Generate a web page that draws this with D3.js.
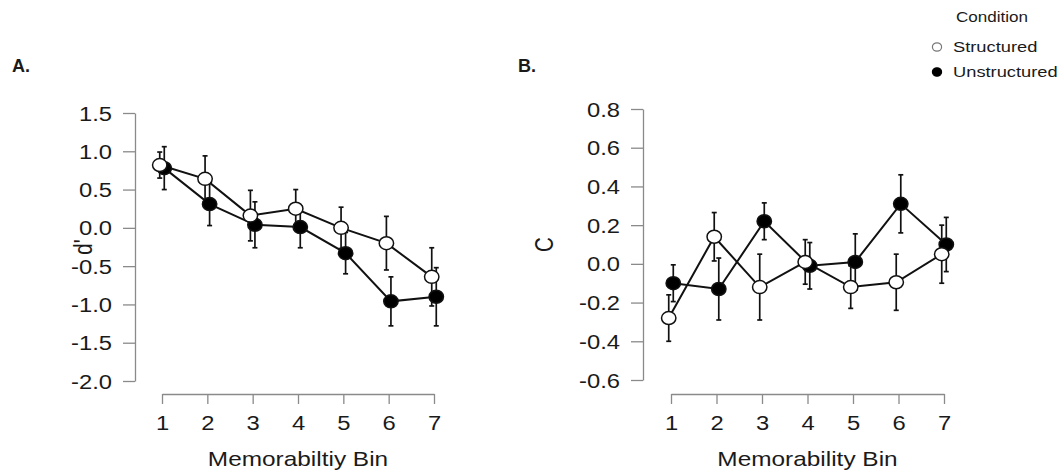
<!DOCTYPE html>
<html>
<head>
<meta charset="utf-8">
<script src="https://cdn.jsdelivr.net/npm/d3@7"></script>
<style>
  body { margin: 0; background: #fff; }
  text { font-family: "Liberation Sans", Arial, sans-serif; fill: #1a1a1a; }
</style>
</head>
<body>
<svg id="chart" width="1063" height="474"></svg>
<script>
// data (mean and half-length of error bar)
const bins = [1, 2, 3, 4, 5, 6, 7];
const conditions = ['Structured', 'Unstructured'];

const dStructured      = [0.82, 0.64, 0.16, 0.25, 0.00, -0.20, -0.64];
const dStructuredErr   = [0.17, 0.30, 0.33, 0.25, 0.27, 0.35, 0.38];
const dUnstructured    = [0.78, 0.31, 0.04, 0.01, -0.33, -0.96, -0.90];
const dUnstructuredErr = [0.28, 0.28, 0.30, 0.27, 0.27, 0.32, 0.38];

const cStructured      = [-0.28, 0.14, -0.12, 0.01, -0.12, -0.095, 0.05];
const cStructuredErr   = [0.12, 0.125, 0.17, 0.115, 0.11, 0.145, 0.15];
const cUnstructured    = [-0.10, -0.13, 0.22, -0.01, 0.01, 0.31, 0.10];
const cUnstructuredErr = [0.095, 0.16, 0.095, 0.12, 0.145, 0.15, 0.14];

const dTicks = [-2, -1.5, -1, -0.5, 0, 0.5, 1, 1.5];
const cTicks = [-0.6, -0.4, -0.2, 0, 0.2, 0.4, 0.6, 0.8];

const svg = d3.select('#chart');
const SX = 1.22;          // the source picture is stretched sideways
const axisColor = '#8a8a8a';
const ink = '#111';

function stext(g, x, y, str, size, anchor, extra) {
  return g.append('text')
    .attr('transform', `translate(${x},${y}) scale(${SX},1)` + (extra || ''))
    .attr('text-anchor', anchor)
    .style('font-size', size + 'px')
    .text(str);
}

function panel(o) {
  const g = svg.append('g');
  const x = d3.scaleLinear().domain([1, 7]).range(o.xRange);
  const y = d3.scaleLinear().domain(d3.extent(o.ticks)).range(o.yRange);

  // y axis
  const ya = g.append('g')
    .attr('transform', `translate(${o.yAxisX},0)`)
    .call(d3.axisLeft(y).tickValues(o.ticks).tickSize(12).tickSizeOuter(0).tickFormat(d3.format('.1f')));
  ya.select('.domain').attr('stroke', axisColor).attr('stroke-width', 1.3);
  ya.selectAll('.tick line').attr('stroke', axisColor).attr('stroke-width', 1.3);
  ya.selectAll('.tick text')
    .attr('x', null).attr('dy', '0.36em')
    .attr('transform', `translate(-23,0) scale(${SX},1)`)
    .style('font-size', '19.5px').style('font-family', '"Liberation Sans", Arial, sans-serif')
    .attr('fill', '#1a1a1a')
    .text(d => d3.format('.1f')(d).replace('−', '-'));

  // x axis
  const xa = g.append('g')
    .attr('transform', `translate(0,${o.xAxisY})`)
    .call(d3.axisBottom(x).tickValues(bins).tickSize(10).tickSizeOuter(0).tickFormat(d3.format('d')));
  xa.select('.domain').attr('stroke', axisColor).attr('stroke-width', 1.3);
  xa.selectAll('.tick line').attr('stroke', axisColor).attr('stroke-width', 1.3);
  xa.selectAll('.tick text')
    .attr('y', null).attr('dy', null)
    .attr('transform', `translate(0,36) scale(${SX},1)`)
    .style('font-size', '19.5px').style('font-family', '"Liberation Sans", Arial, sans-serif')
    .attr('fill', '#1a1a1a');

  // titles
  stext(g, (o.xRange[0] + o.xRange[1]) / 2, 466, o.xTitle, 20, 'middle');
  stext(g, o.yTitleX, (o.yRange[0] + o.yRange[1]) / 2, o.yTitle, 20.5, 'middle', ' rotate(-90)');
  g.append('text').attr('x', o.letterX).attr('y', 72)
    .style('font-size', '18px').style('font-weight', 'bold').text(o.letter);

  const dodge = [-0.05, 0.05];
  const series = o.series.map((s, k) => bins.map((b, i) => ({
    bx: b + dodge[k], v: s.values[i], e: s.err[i], fill: s.fill
  })));

  // error bars
  series.forEach(pts => {
    const eb = g.append('g').attr('stroke', ink).attr('stroke-width', 1.7);
    pts.forEach(p => {
      const cx = x(p.bx);
      eb.append('line').attr('x1', cx).attr('x2', cx).attr('y1', y(p.v - p.e)).attr('y2', y(p.v + p.e));
      eb.append('line').attr('x1', cx - 2.5).attr('x2', cx + 2.5).attr('y1', y(p.v - p.e)).attr('y2', y(p.v - p.e));
      eb.append('line').attr('x1', cx - 2.5).attr('x2', cx + 2.5).attr('y1', y(p.v + p.e)).attr('y2', y(p.v + p.e));
    });
  });

  // lines
  const line = d3.line().x(p => x(p.bx)).y(p => y(p.v));
  series.forEach(pts => {
    g.append('path').datum(pts).attr('d', line)
      .attr('fill', 'none').attr('stroke', ink).attr('stroke-width', 2);
  });

  // points: filled first, open on top
  [1, 0].forEach(k => {
    g.selectAll(null).data(series[k]).enter().append('ellipse')
      .attr('cx', p => x(p.bx)).attr('cy', p => y(p.v))
      .attr('rx', 7.2).attr('ry', 6.5)
      .attr('fill', p => p.fill).attr('stroke', ink).attr('stroke-width', 1.5);
  });
}

panel({
  xRange: [162, 434], yRange: [381, 113], yAxisX: 135, xAxisY: 394,
  ticks: dTicks, xTitle: 'Memorabiltiy Bin', yTitle: "d'", yTitleX: 92,
  letter: 'A.', letterX: 12,
  series: [
    { values: dStructured, err: dStructuredErr, fill: '#fff' },
    { values: dUnstructured, err: dUnstructuredErr, fill: '#000' }
  ]
});

panel({
  xRange: [671, 944], yRange: [380, 109], yAxisX: 643, xAxisY: 394,
  ticks: cTicks, xTitle: 'Memorability Bin', yTitle: 'C', yTitleX: 553,
  letter: 'B.', letterX: 518,
  series: [
    { values: cStructured, err: cStructuredErr, fill: '#fff' },
    { values: cUnstructured, err: cUnstructuredErr, fill: '#000' }
  ]
});

// legend
const lg = svg.append('g');
stext(lg, 992, 22, 'Condition', 14, 'middle');
const fills = ['#fff', '#000'];
conditions.forEach((c, i) => {
  lg.append('ellipse').attr('cx', 937).attr('cy', 47 + i * 25)
    .attr('rx', 4.6).attr('ry', 4.2)
    .attr('fill', fills[i]).attr('stroke', i === 0 ? '#777' : '#000').attr('stroke-width', 1.2);
  stext(lg, 953, 52 + i * 25, c, 15, 'start');
});
</script>
</body>
</html>
